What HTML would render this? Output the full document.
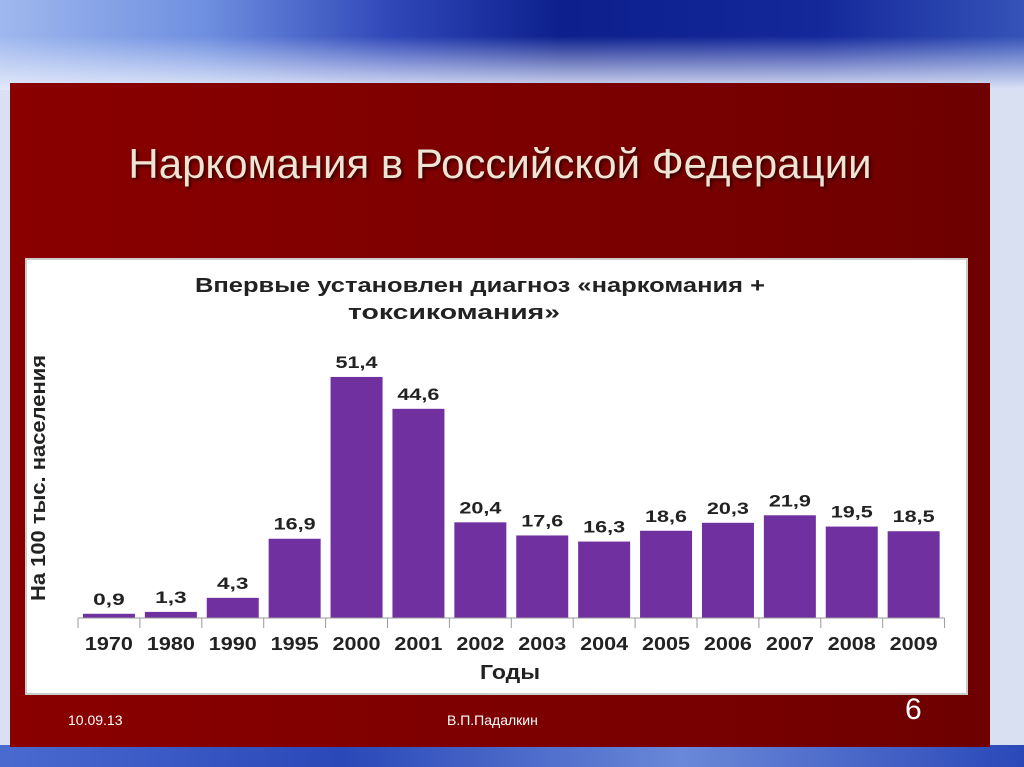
<!DOCTYPE html>
<html><head><meta charset="utf-8"><style>
body{margin:0;width:1024px;height:767px;overflow:hidden;position:relative;font-family:"Liberation Sans",sans-serif;background:#d8e0f2;}
#sky{position:absolute;left:0;top:0;width:1024px;height:90px;background:linear-gradient(90deg,#9fb8ee 0%,#6f8fe0 20%,#3048b8 38%,#0c1f8c 55%,#14289a 80%,#3553b8 100%);}
#sky2{position:absolute;left:0;top:0;width:1024px;height:90px;background:linear-gradient(180deg,rgba(255,255,255,0) 40%,rgba(230,235,250,.95) 100%);}
#bot{position:absolute;left:0;top:745px;width:1024px;height:22px;background:linear-gradient(90deg,#4a6ad0,#2a48b8,#6a88d8,#2a48b8);}
#panel{position:absolute;left:10px;top:83px;width:980px;height:664px;background:linear-gradient(90deg,#8a0000,#780000 70%,#6e0000);}
#title{position:absolute;left:10px;top:140px;width:980px;text-align:center;font-size:42px;color:#eee4d4;text-shadow:2px 2px 3px #300;}
#chart{position:absolute;left:25px;top:258px;width:943px;height:437px;background:#fff;border:2px solid #ccc;box-sizing:border-box;}
.ft{position:absolute;color:#fff;font-size:14px;}
</style></head><body>
<div id="sky"></div>
<div id="sky2"></div>
<div id="bot"></div>
<div id="panel"></div>
<div id="title">Наркомания в Российской Федерации</div>
<div id="chart"></div>
<svg id="svg" width="1024" height="767" style="position:absolute;left:0;top:0">
<text x="195" y="292" textLength="570" lengthAdjust="spacingAndGlyphs" font-size="20" font-weight="bold" fill="#222">Впервые установлен диагноз «наркомания +</text>
<text x="348" y="319" textLength="212" lengthAdjust="spacingAndGlyphs" font-size="20" font-weight="bold" fill="#222">токсикомания»</text>
<text transform="translate(45,478) rotate(-90)" x="-123" textLength="246" lengthAdjust="spacingAndGlyphs" font-size="20" font-weight="bold" fill="#222">На 100 тыс. населения</text>
<text x="480" y="679" textLength="60" lengthAdjust="spacingAndGlyphs" font-size="20" font-weight="bold" fill="#222">Годы</text>
<g id="marks"></g>
</svg>
<div class="ft" style="left:68px;top:712px">10.09.13</div>
<div class="ft" style="left:447px;top:712px">В.П.Падалкин</div>
<div class="ft" style="left:905px;top:693px;font-size:30px">6</div>
<script>
const categories=["1970","1980","1990","1995","2000","2001","2002","2003","2004","2005","2006","2007","2008","2009"];
const values=[0.9,1.3,4.3,16.9,51.4,44.6,20.4,17.6,16.3,18.6,20.3,21.9,19.5,18.5];
const labels=["0,9","1,3","4,3","16,9","51,4","44,6","20,4","17,6","16,3","18,6","20,3","21,9","19,5","18,5"];
const x0=78,step=61.9,base=618,k=4.69,bw=52;
const xs=i=>x0+step*i;const ys=v=>base-v*k;
const g=document.getElementById('marks');const NS='http://www.w3.org/2000/svg';
function mk(t,a){const e=document.createElementNS(NS,t);for(const n in a)e.setAttribute(n,a[n]);g.appendChild(e);return e;}
categories.forEach((c,i)=>{
 const cx=xs(i)+step/2;
 const r=mk('rect',{x:cx-bw/2,y:ys(values[i]),width:bw,height:base-ys(values[i]),fill:'#7030a0'});
 
 
 const lw=labels[i].length*10.5;
 const l=mk('text',{x:cx-lw/2,y:ys(values[i])-9,textLength:lw,lengthAdjust:'spacingAndGlyphs','font-size':17,'font-weight':'bold',fill:'#222'});l.textContent=labels[i];
 
 
 const t=mk('text',{x:cx-24,y:650,textLength:48,lengthAdjust:'spacingAndGlyphs','font-size':18,'font-weight':'bold',fill:'#222'});t.textContent=c;
 
 
});
for(let i=0;i<=categories.length;i++){const tk=mk('line',{x1:xs(i),x2:xs(i),y1:base,y2:628,stroke:'#999'});
 
 }
const ax=mk('line',{x1:x0,x2:xs(categories.length),y1:base,y2:base,stroke:'#999'});


</script>
</body></html>
